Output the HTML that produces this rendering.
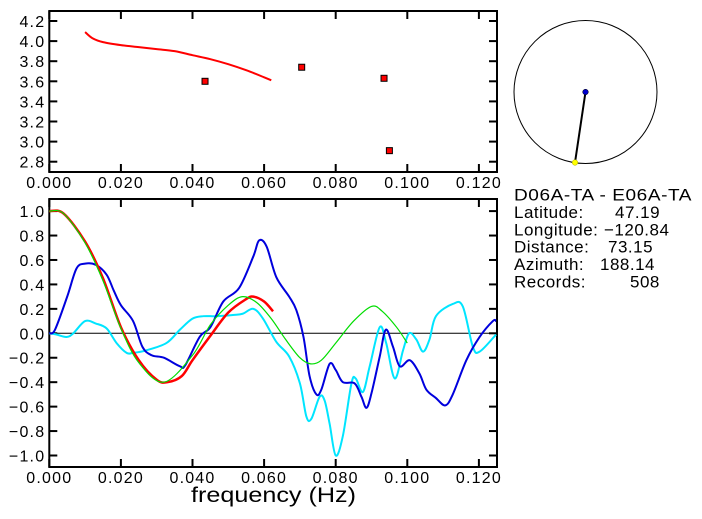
<!DOCTYPE html>
<html><head><meta charset="utf-8"><style>
html,body{margin:0;padding:0;background:#fff;}
svg{display:block;font-family:"Liberation Sans",sans-serif;}
</style></head><body>
<svg id="chart" width="702" height="519" viewBox="0 0 702 519">
<g id="topPanel"></g>
<g id="botPanel"></g>
<g>
<circle cx="585.5" cy="92" r="71.5" fill="none" stroke="#000" stroke-width="1"/>
<line x1="585.5" y1="92" x2="575" y2="162.5" stroke="#000" stroke-width="2"/>
<circle cx="585.5" cy="92" r="2.8" fill="#0000cc" stroke="#000" stroke-width="0.5"/>
<circle cx="575" cy="162.5" r="2.8" fill="#ffff00" stroke="#aa0" stroke-width="0.5"/>
</g>
<g font-size="17" fill="#000" letter-spacing="0.5">
<text x="514" y="200.5" textLength="178" lengthAdjust="spacingAndGlyphs">D06A-TA  -  E06A-TA</text>
<text x="514" y="218">Latitude:</text><text x="615" y="218">47.19</text>
<text x="514" y="235.3">Longitude:</text><text x="604" y="235.3">−120.84</text>
<text x="514" y="252.7">Distance:</text><text x="608" y="252.7">73.15</text>
<text x="514" y="270">Azimuth:</text><text x="600" y="270">188.14</text>
<text x="514" y="287.3">Records:</text><text x="630" y="287.3">508</text>
</g>
<text x="191" y="502" font-size="21" textLength="165" lengthAdjust="spacingAndGlyphs">frequency (Hz)</text>
</svg>
<script>
const xTicks=[0,0.02,0.04,0.06,0.08,0.10,0.12];
const xTickLabels=["0.000","0.020","0.040","0.060","0.080","0.100","0.120"];
const topYTicks=[2.8,3.0,3.2,3.4,3.6,3.8,4.0,4.2];
const botYTicks=[-1.0,-0.8,-0.6,-0.4,-0.2,0.0,0.2,0.4,0.6,0.8,1.0];
const velFreq=[0.010,0.012,0.015,0.020,0.025,0.030,0.035,0.040,0.045,0.050,0.055,0.060,0.062];
const velVals=[4.09,4.03,3.99,3.96,3.94,3.92,3.90,3.86,3.82,3.77,3.71,3.64,3.61];
const ptFreq=[0.0435,0.0705,0.0935,0.095];
const ptVals=[3.60,3.74,3.63,2.91];
const redF=[0,0.004,0.010,0.015,0.020,0.025,0.030,0.033,0.037,0.040,0.045,0.050,0.055,0.057,0.060,0.0625];
const redV=[1.0,0.98,0.75,0.45,0.05,-0.22,-0.38,-0.40,-0.35,-0.22,-0.02,0.17,0.28,0.30,0.26,0.18];
const greenF=[0,0.004,0.010,0.015,0.020,0.025,0.032,0.040,0.045,0.050,0.054,0.058,0.062,0.066,0.070,0.073,0.076,0.080,0.085,0.090,0.093,0.097,0.100];
const greenV=[1.0,0.98,0.74,0.43,0.04,-0.24,-0.40,-0.18,0.07,0.23,0.30,0.25,0.12,-0.05,-0.20,-0.25,-0.22,-0.08,0.10,0.22,0.18,0.05,-0.08];
const blueF=[0,0.0016,0.005,0.0076,0.010,0.013,0.016,0.018,0.020,0.0234,0.026,0.0286,0.032,0.0365,0.038,0.042,0.045,0.0486,0.053,0.057,0.0586,0.0607,0.0634,0.067,0.069,0.071,0.0727,0.0746,0.076,0.0783,0.080,0.082,0.0853,0.0872,0.0886,0.090,0.0923,0.094,0.096,0.0979,0.1007,0.1034,0.1053,0.108,0.1106,0.1127,0.1165,0.1202,0.1239,0.1248];
const blueV=[0,0.03,0.30,0.53,0.57,0.56,0.48,0.35,0.23,0.10,-0.11,-0.18,-0.20,-0.27,-0.26,-0.03,0.05,0.26,0.37,0.63,0.76,0.71,0.46,0.30,0.19,-0.03,-0.35,-0.50,-0.46,-0.25,-0.30,-0.40,-0.41,-0.52,-0.61,-0.49,-0.19,0.03,-0.11,-0.27,-0.22,-0.33,-0.46,-0.53,-0.59,-0.50,-0.22,-0.03,0.10,0.10];
const cyanF=[0,0.002,0.0048,0.0067,0.010,0.013,0.016,0.0188,0.0216,0.0234,0.027,0.0327,0.0365,0.040,0.043,0.0467,0.0513,0.054,0.057,0.0597,0.0634,0.067,0.070,0.0718,0.0732,0.0755,0.0769,0.0783,0.080,0.082,0.0844,0.0856,0.0876,0.0895,0.0923,0.0941,0.0965,0.0988,0.1005,0.1025,0.1044,0.1062,0.108,0.1127,0.1155,0.1183,0.1202,0.1248];
const cyanV=[0,-0.01,-0.03,0,0.10,0.08,0.04,-0.08,-0.16,-0.16,-0.14,-0.08,0.03,0.12,0.14,0.14,0.15,0.16,0.20,0.12,-0.07,-0.19,-0.41,-0.68,-0.70,-0.52,-0.55,-0.74,-1.0,-0.84,-0.41,-0.37,-0.48,-0.27,0.05,-0.08,-0.37,-0.14,0,-0.05,-0.15,-0.05,0.14,0.24,0.22,-0.11,-0.15,-0.01];

const NS="http://www.w3.org/2000/svg";
function mk(parent,tag,attrs){const e=document.createElementNS(NS,tag);for(const k in attrs)e.setAttribute(k,attrs[k]);parent.appendChild(e);return e;}
const L=49.3,R=497;
const xS=f=>L+f*3580;
const topY=v=>21+(4.2-v)*100.5;
const botY=v=>333.3-v*122.2;
function smooth(F,V,ys){const p=F.map((f,i)=>[xS(f),ys(V[i])]);let d="M"+p[0][0]+","+p[0][1];
 for(let i=0;i<p.length-1;i++){const p0=p[Math.max(0,i-1)],p1=p[i],p2=p[i+1],p3=p[Math.min(p.length-1,i+2)];
 d+=" C"+(p1[0]+(p2[0]-p0[0])/6)+","+(p1[1]+(p2[1]-p0[1])/6)+" "+(p2[0]-(p3[0]-p1[0])/6)+","+(p2[1]-(p3[1]-p1[1])/6)+" "+p2[0]+","+p2[1];}
 return d;}
function axes(g,y0,y1,yTicks,ys,yFmt){
 const b=mk(g,"rect",{x:L,y:y0,width:R-L,height:y1-y0,fill:"none",stroke:"#000","stroke-width":2});
 
 
 xTicks.forEach((t,i)=>{const x=xS(t);
  mk(g,"line",{x1:x,y1:y1,x2:x,y2:y1-8,stroke:"#000","stroke-width":2});
  mk(g,"line",{x1:x,y1:y0,x2:x,y2:y0+8,stroke:"#000","stroke-width":2});
  const tx=mk(g,"text",{x:x,y:y1+16,"font-size":16,"letter-spacing":1.2,"text-anchor":"middle"});tx.textContent=xTickLabels[i];
  
  });
 yTicks.forEach(t=>{const y=ys(t);
  mk(g,"line",{x1:L,y1:y,x2:L+8,y2:y,stroke:"#000","stroke-width":2});
  mk(g,"line",{x1:R,y1:y,x2:R-8,y2:y,stroke:"#000","stroke-width":2});
  const tx=mk(g,"text",{x:L-4,y:y+6,"font-size":16,"letter-spacing":1.2,"text-anchor":"end"});tx.textContent=yFmt(t);
  
  });
}
const topG=document.getElementById("topPanel"),botG=document.getElementById("botPanel");
axes(topG,11,172,topYTicks,topY,t=>t.toFixed(1));
axes(botG,199,467,botYTicks,botY,t=>(t<0?"−":"")+Math.abs(t).toFixed(1));
const vc=mk(topG,"path",{d:smooth(velFreq,velVals,topY),fill:"none",stroke:"#f00","stroke-width":2});


ptFreq.forEach((f,i)=>{const r=mk(topG,"rect",{x:xS(f)-3,y:topY(ptVals[i])-3,width:6,height:6,fill:"#f00",stroke:"#000","stroke-width":1});
 
 });
const zl=mk(botG,"line",{x1:L,y1:botY(0),x2:R,y2:botY(0),stroke:"#000","stroke-width":1});


[[cyanF,cyanV,"#00e5ff",2,"cyan-series"],[blueF,blueV,"#0000dd",2,"blue-series"],[redF,redV,"#f00",2.5,"red-series"],[greenF,greenV,"#00dd00",1.2,"green-series"]].forEach(s=>{
 const p=mk(botG,"path",{d:smooth(s[0],s[1],botY),fill:"none",stroke:s[2],"stroke-width":s[3]});
 
 });
</script>
</body></html>
